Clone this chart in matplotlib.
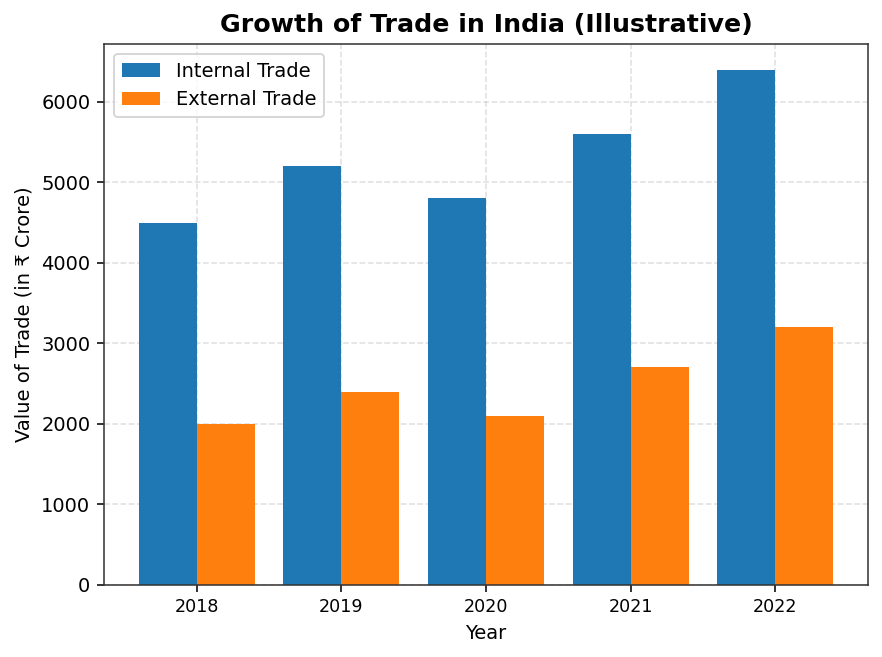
import numpy as np
import matplotlib.pyplot as plt

years = ['2018', '2019', '2020', '2021', '2022']
internal_trade = [4500, 5200, 4800, 5600, 6400]
external_trade = [2000, 2400, 2100, 2700, 3200]

x = np.arange(len(years))
width = 0.4

fig, ax = plt.subplots(figsize=(6.3, 4.693), dpi=140)
ax.set_axisbelow(True)
ax.grid(True, linestyle='--', alpha=0.4)

ax.bar(x - width/2, internal_trade, width, label='Internal Trade', color='#1f77b4')
ax.bar(x + width/2, external_trade, width, label='External Trade', color='#ff7f0e')

ax.set_xticks(x)
ax.set_xticklabels(years, fontsize=9)
ax.set_xlabel('Year')
ax.set_ylabel('Value of Trade (in ₹ Crore)')
ax.set_title('Growth of Trade in India (Illustrative)', fontsize=13, fontweight='bold')
ax.legend(loc='upper left')

for s in ax.spines.values():
    s.set_color('#333333')

fig.subplots_adjust(left=0.118, right=0.984, top=0.933, bottom=0.110)
fig.savefig('out.png')
